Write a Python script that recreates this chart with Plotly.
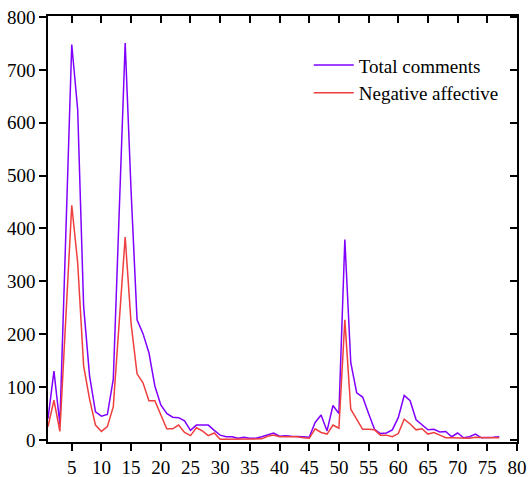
import plotly.graph_objects as go

days = list(range(1, 78))
total_comments = [40, 130, 30, 400, 748, 625, 253, 121, 53, 45, 48, 115, 430, 751, 470,
                  227, 201, 165, 102, 66, 50, 43, 42, 36, 18, 28, 28, 28, 18, 9,
                  6, 6, 3, 5, 3, 3, 6, 10, 13, 7, 8, 7, 7, 6, 5,
                  33, 47, 17, 65, 50, 379, 146, 89, 81, 50, 20, 12, 13, 19, 42,
                  84, 74, 38, 28, 19, 20, 15, 16, 6, 13, 4, 6, 11, 4, 4, 5, 6]
negative_affective = [25, 75, 16, 235, 444, 335, 140, 77, 28, 16, 25, 63, 222, 384, 220,
                      125, 108, 74, 74, 49, 21, 21, 28, 14, 8, 23, 17, 8, 13, 1,
                      1, 1, 1, 2, 1, 1, 2, 7, 9, 6, 6, 6, 6, 4, 3,
                      21, 14, 11, 28, 22, 227, 58, 39, 20, 20, 19, 9, 9, 6, 12,
                      39, 30, 19, 21, 11, 14, 9, 4, 4, 4, 3, 3, 5, 4, 4, 4, 4]

FONT = "Times New Roman, Liberation Serif, DejaVu Serif, serif"
TICKFONT = dict(family=FONT, size=19, color="black")
fig = go.Figure()
fig.add_trace(go.Scatter(x=days, y=total_comments, mode="lines", name="Total comments",
                         line=dict(color="#8000FF", width=1.5)))
fig.add_trace(go.Scatter(x=days, y=negative_affective, mode="lines", name="Negative affective",
                         line=dict(color="#EF3E3E", width=1.5)))
# invisible trace on mirror axes
fig.add_trace(go.Scatter(x=[days[0]], y=[0], mode="markers", marker=dict(opacity=0),
                         showlegend=False, hoverinfo="skip", xaxis="x2", yaxis="y2"))

axis_common = dict(showgrid=False, zeroline=False, showline=True, linecolor="black",
                   linewidth=1.5, tickcolor="black", tickwidth=1.5, ticklen=7,
                   automargin=False, tickfont=TICKFONT)
fig.update_layout(
    template="none",
    width=528, height=477,
    margin=dict(l=48, r=11, t=16, b=35),
    paper_bgcolor="white", plot_bgcolor="white",
    font=dict(family=FONT, size=19, color="black"),
    xaxis=dict(range=[1, 80], tick0=0, dtick=5, ticks="outside", **axis_common),
    yaxis=dict(range=[-4, 802], tick0=0, dtick=100, ticks="outside", **axis_common),
    xaxis2=dict(range=[1, 80], tick0=0, dtick=5, ticks="inside", side="top",
                overlaying="x", showticklabels=False, **axis_common),
    yaxis2=dict(range=[-4, 802], tick0=0, dtick=100, ticks="inside", side="right",
                overlaying="y", showticklabels=False, **axis_common),
    legend=dict(x=0.556, y=0.929, xanchor="left", yanchor="top", bgcolor="rgba(0,0,0,0)",
                borderwidth=0, itemwidth=40, font=dict(family=FONT, size=19)),
    showlegend=True,
)
fig.write_html("out.html", config={"displayModeBar": False},
               post_script="document.body.style.margin='0';")
